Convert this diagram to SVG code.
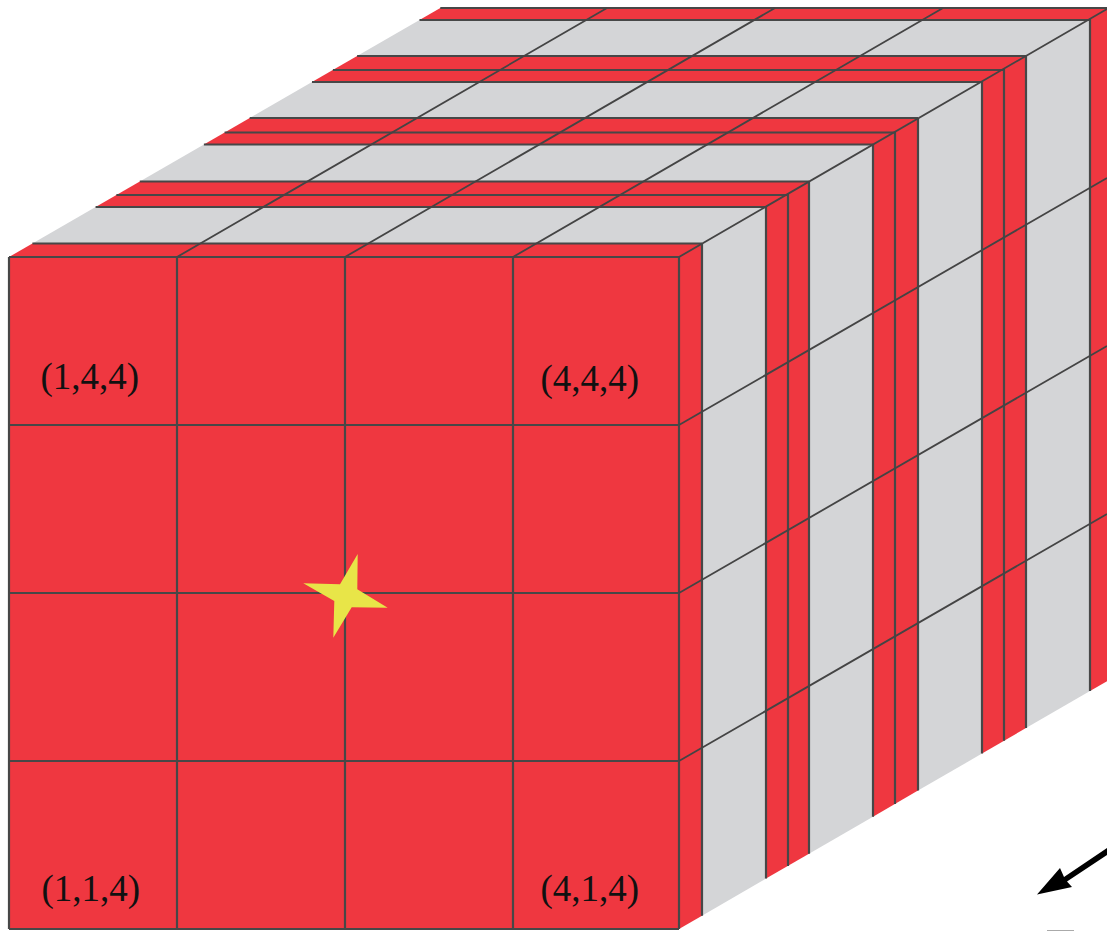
<svg xmlns="http://www.w3.org/2000/svg" width="1107" height="931" viewBox="0 0 1107 931">
<style>
.r{fill:#ef3740}
.g{fill:#d4d5d7}
.l{fill:none;stroke:#474747;stroke-width:2.2}
.d{fill:none;stroke:#444;stroke-width:1.8}
.t{font-family:"Liberation Serif",serif;font-size:37px;fill:#111}
</style>
<rect width="1107" height="931" fill="#fff"/>
<g id="top-face">
<polygon class="r" points="9,257 32.4,243.5 702,243.5 679,257"/>
<polygon class="g" points="32.4,243.5 95.6,207 766,207 702,243.5"/>
<polygon class="r" points="95.6,207 139.8,181.5 809,181.5 766,207"/>
<polygon class="g" points="139.8,181.5 203.9,144.5 873,144.5 809,181.5"/>
<polygon class="r" points="203.9,144.5 249.7,118 918,118 873,144.5"/>
<polygon class="g" points="249.7,118 312,82 982,82 918,118"/>
<polygon class="r" points="312,82 357.1,56 1026,56 982,82"/>
<polygon class="g" points="357.1,56 419.5,20 1090,20 1026,56"/>
<polygon class="r" points="419.5,20 440.3,8 1107,8 1107,9 1090,20"/>
</g>
<g id="right-face">
<polygon class="r" points="679,257 702,243.7 702,915.7 679,929"/>
<polygon class="g" points="702,243.7 766,206.6 766,878.6 702,915.7"/>
<polygon class="r" points="766,206.6 809,181.7 809,853.7 766,878.6"/>
<polygon class="g" points="809,181.7 873,144.7 873,816.7 809,853.7"/>
<polygon class="r" points="873,144.7 918,118.6 918,790.6 873,816.7"/>
<polygon class="g" points="918,118.6 982,81.6 982,753.6 918,790.6"/>
<polygon class="r" points="982,81.6 1026,56 1026,728 982,753.6"/>
<polygon class="g" points="1026,56 1090,19 1090,691 1026,728"/>
<polygon class="r" points="1090,19 1107,9 1107,681.2 1090,691"/>
</g>
<g id="front-face">
<rect class="r" x="9" y="257" width="670" height="672"/>
</g>
<g id="connectors">
<path class="l" d="M9 257H679M9 425H679M9 593H679M9 761H679M9 929H679M9 257V929M177 257V929M345 257V929M513 257V929M679 257V929"/>
<path class="l" d="M32.4 243.5H702M95.6 207H766M116.4 195H788M139.8 181.5H809M203.9 144.5H873M224.6 132.5H895M249.7 118H918M312 82H982M332.9 70H1004M357.1 56H1026M419.5 20H1090M440.3 8H1107"/>
<path class="l" d="M702 243.7V915.7M766 206.6V878.6M788 193.9V865.9M809 181.7V853.7M873 144.7V816.7M895 131.9V803.9M918 118.6V790.6M982 81.6V753.6M1004 68.8V740.8M1026 56V728M1090 19V691"/>
<path class="d" d="M177 257L607 8M345 257L775 8M513 257L943 8M679 257L1107 9M679 425L1107 178M679 593L1107 346M679 761L1107 514"/>
</g>
<g id="star">
<polygon fill="#e8e548" points="357.7,554 357.3,589.3 387.7,607.7 351.7,607.3 333.3,637.7 334.3,601 303.3,583.3 340,584.3"/>
</g>
<g id="labels">
<text class="t" x="40.5" y="389">(1,4,4)</text>
<text class="t" x="540.5" y="391">(4,4,4)</text>
<text class="t" x="41.5" y="901">(1,1,4)</text>
<text class="t" x="540.5" y="901">(4,1,4)</text>
</g>
<g id="arrow">
<polygon fill="#000" points="1037,894.5 1060,868 1064,877 1107,848 1107,855 1067,881.5 1072,887"/>
</g>
<rect id="mark" x="1047" y="930" width="27" height="1" fill="#aaa"/>
</svg>
